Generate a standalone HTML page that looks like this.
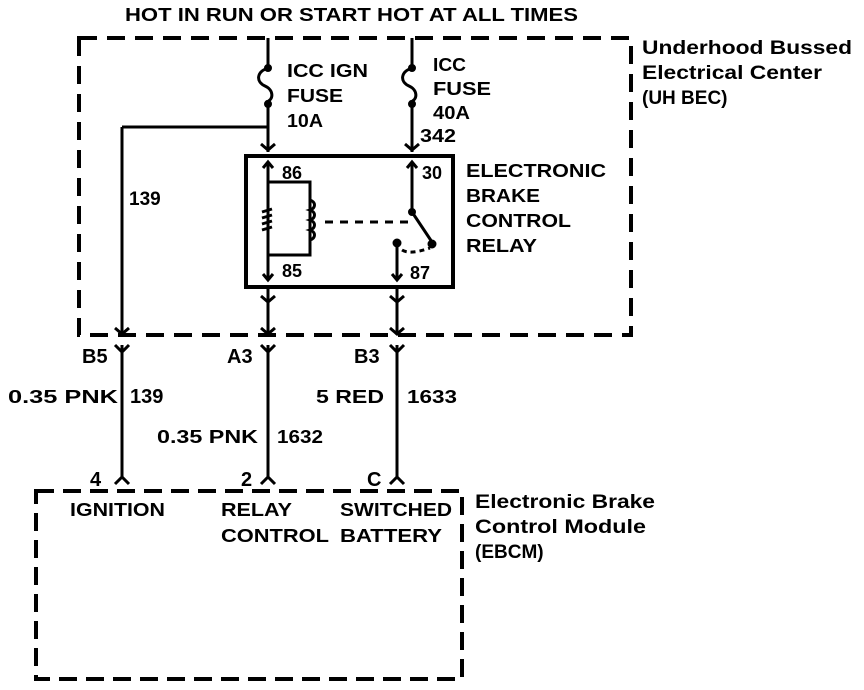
<!DOCTYPE html>
<html><head><style>
html,body{margin:0;padding:0;background:#fff;width:864px;height:690px;overflow:hidden}
svg{display:block}
text{font-family:"Liberation Sans",Arial,sans-serif;font-weight:bold;fill:#000}
</style></head><body>
<svg width="864" height="690" viewBox="0 0 864 690" xmlns="http://www.w3.org/2000/svg">
<g fill="none" stroke="#000">
<rect x="79" y="38" width="552" height="297" stroke-width="4" stroke-dasharray="18 10"/>
<rect x="36" y="491" width="426" height="188" stroke-width="4" stroke-dasharray="18 9"/>
<rect x="246" y="156" width="207" height="131" stroke-width="4"/>
<g stroke-width="3">
<path d="M268 38 V68 M268 68 C256 72 256 82 265 86 C274 90 274 100 266 102 M268 104 V152"/>
<circle cx="268" cy="68" r="2.5" fill="#000"/><circle cx="268" cy="104" r="2.5" fill="#000"/>
<path d="M122 127 H268 M122 127 V335"/>
<path d="M412 38 V68 M412 68 C400 72 400 82 409 86 C418 90 418 100 410 102 M412 104 V152"/>
<circle cx="412" cy="68" r="2.5" fill="#000"/><circle cx="412" cy="104" r="2.5" fill="#000"/>
<path d="M261 144 L268 150 L275 144 M405 144 L412 150 L419 144"/>
<path d="M268 162 V280 M263 168 L268 162 L273 168 M268 182 H310 V255 H268"/>
<path d="M310 200 c6 2 6 8 0 10 c6 2 6 8 0 10 c6 2 6 8 0 10 c6 2 6 8 0 10"/>
<path d="M262 212 l10 -3 M262 218 l10 -3 M262 224 l10 -3 M262 230 l10 -3"/>
<path d="M263 274 L268 280 L273 274"/>
<path d="M412 162 V212 L432 242 M407 168 L412 162 L417 168"/>
<circle cx="412" cy="212" r="2.5" fill="#000"/><circle cx="432" cy="244" r="3" fill="#000"/>
<path d="M325 222 H410" stroke-dasharray="8 7"/>
<path d="M402 250 Q410 255 430 248" stroke-dasharray="5 4"/>
<path d="M397 243 V280 M392 274 L397 280 L402 274"/>
<circle cx="397" cy="243" r="3" fill="#000"/>
<path d="M268 287 V335 M261 296 L268 302 L275 296 M261 328 L268 334 L275 328"/>
<path d="M397 287 V335 M390 296 L397 302 L404 296 M390 328 L397 334 L404 328"/>
<path d="M115 328 L122 334 L129 328"/>
<path d="M122 345 V478 M115 345 L122 352 L129 345 M115 484 L122 477 L129 484"/>
<path d="M268 345 V478 M261 345 L268 352 L275 345 M261 484 L268 477 L275 484"/>
<path d="M397 345 V478 M390 345 L397 352 L404 345 M390 484 L397 477 L404 484"/>
</g>
</g>
<g font-size="18">
<text x="125" y="21" textLength="453" lengthAdjust="spacingAndGlyphs">HOT IN RUN OR START HOT AT ALL TIMES</text>
<text x="287" y="77" textLength="81" lengthAdjust="spacingAndGlyphs">ICC IGN</text>
<text x="287" y="102" textLength="56" lengthAdjust="spacingAndGlyphs">FUSE</text>
<text x="287" y="127" textLength="36" lengthAdjust="spacingAndGlyphs">10A</text>
<text x="433" y="71" textLength="33" lengthAdjust="spacingAndGlyphs">ICC</text>
<text x="433" y="95" textLength="58" lengthAdjust="spacingAndGlyphs">FUSE</text>
<text x="433" y="119" textLength="37" lengthAdjust="spacingAndGlyphs">40A</text>
<text x="420" y="142" textLength="36" lengthAdjust="spacingAndGlyphs">342</text>
<text x="466" y="177" textLength="140" lengthAdjust="spacingAndGlyphs">ELECTRONIC</text>
<text x="466" y="202" textLength="74" lengthAdjust="spacingAndGlyphs">BRAKE</text>
<text x="466" y="227" textLength="105" lengthAdjust="spacingAndGlyphs">CONTROL</text>
<text x="466" y="252" textLength="71" lengthAdjust="spacingAndGlyphs">RELAY</text>
<text x="282" y="179">86</text>
<text x="282" y="277">85</text>
<text x="422" y="179">30</text>
<text x="410" y="279">87</text>
<text x="129" y="205" font-size="19">139</text>
<text x="82" y="363" font-size="20">B5</text>
<text x="227" y="363" font-size="20">A3</text>
<text x="354" y="363" font-size="20">B3</text>
<text x="8" y="403" textLength="110" lengthAdjust="spacingAndGlyphs">0.35 PNK</text>
<text x="130" y="403" font-size="20">139</text>
<text x="157" y="443" textLength="101" lengthAdjust="spacingAndGlyphs">0.35 PNK</text>
<text x="277" y="443" textLength="46" lengthAdjust="spacingAndGlyphs">1632</text>
<text x="316" y="403" textLength="68" lengthAdjust="spacingAndGlyphs">5 RED</text>
<text x="407" y="403" textLength="50" lengthAdjust="spacingAndGlyphs">1633</text>
<text x="90" y="486" font-size="20">4</text>
<text x="241" y="486" font-size="20">2</text>
<text x="367" y="486" font-size="20">C</text>
<text x="70" y="516" textLength="95" lengthAdjust="spacingAndGlyphs">IGNITION</text>
<text x="221" y="516" textLength="71" lengthAdjust="spacingAndGlyphs">RELAY</text>
<text x="221" y="542" textLength="108" lengthAdjust="spacingAndGlyphs">CONTROL</text>
<text x="340" y="516" textLength="112" lengthAdjust="spacingAndGlyphs">SWITCHED</text>
<text x="340" y="542" textLength="102" lengthAdjust="spacingAndGlyphs">BATTERY</text>
<text x="642" y="54" font-size="19" textLength="210" lengthAdjust="spacingAndGlyphs">Underhood Bussed</text>
<text x="642" y="79" font-size="19" textLength="180" lengthAdjust="spacingAndGlyphs">Electrical Center</text>
<text x="642" y="104" font-size="19">(UH BEC)</text>
<text x="475" y="508" font-size="19" textLength="180" lengthAdjust="spacingAndGlyphs">Electronic Brake</text>
<text x="475" y="533" font-size="19" textLength="171" lengthAdjust="spacingAndGlyphs">Control Module</text>
<text x="475" y="558" font-size="19">(EBCM)</text>
</g>
</svg>
</body></html>
